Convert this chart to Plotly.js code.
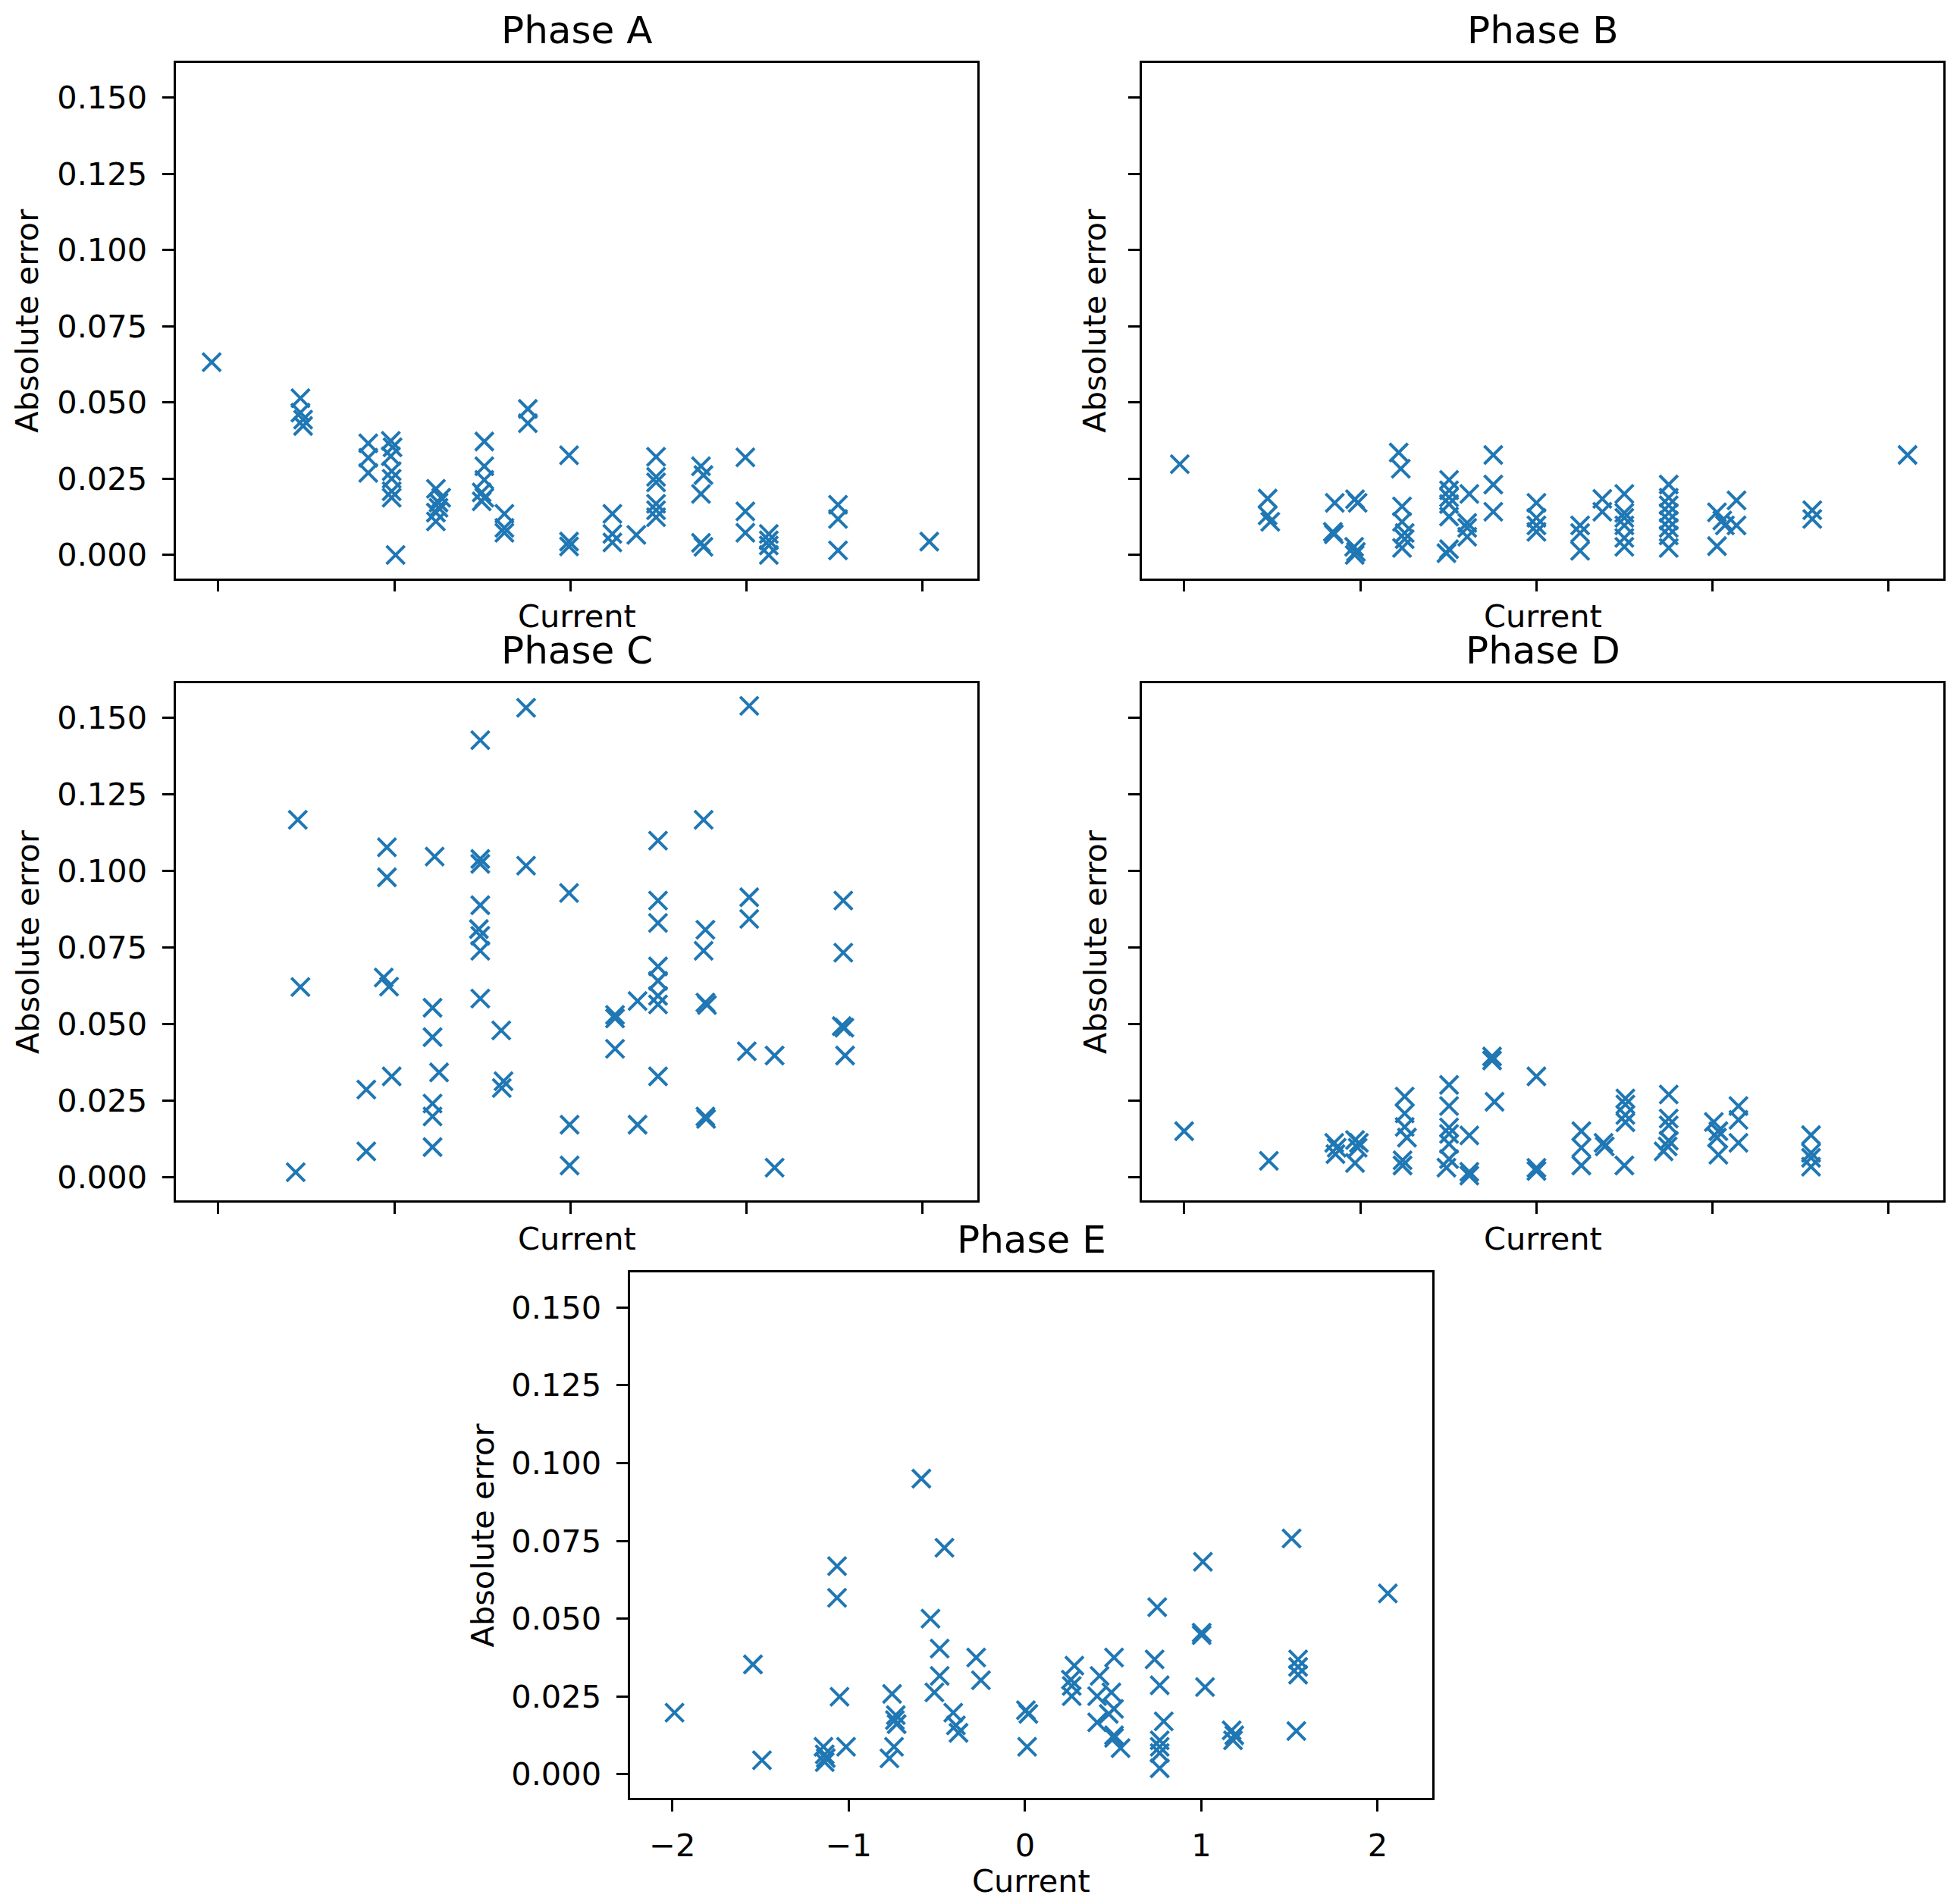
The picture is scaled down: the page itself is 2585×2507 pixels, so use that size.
<!DOCTYPE html>
<html>
<head>
<meta charset="utf-8">
<script src="https://cdn.plot.ly/plotly-3.0.1.min.js"></script>
<style>
  html, body { margin: 0; padding: 0; background: #ffffff; }
  #chart { width: 2585px; height: 2507px; }
</style>
</head>
<body>
<div id="chart"></div>
<script>
// ---------------------------------------------------------------------------
// Absolute error vs current, one scatter per phase
// ---------------------------------------------------------------------------

const phaseNames = ['Phase A', 'Phase B', 'Phase C', 'Phase D', 'Phase E'];

const phaseA_current = [
    -2.037,
    -1.533, -1.533, -1.518, -1.518,
    -1.148, -1.148, -1.148,
    -1.02, -1.01, -1.02, -1.015, -1.015, -1.015, -1.015,
    -0.993,
    -0.764, -0.734, -0.749, -0.749, -0.764, -0.764,
    -0.489, -0.489, -0.489, -0.504, -0.489, -0.504,
    -0.375, -0.375, -0.375,
    -0.242, -0.242,
    -0.008, -0.008, -0.008,
    0.238, 0.238, 0.238,
    0.374,
    0.486, 0.486, 0.486, 0.486, 0.486, 0.486,
    0.741, 0.755, 0.741, 0.741, 0.755,
    0.993, 0.993, 0.993,
    1.126, 1.126, 1.126, 1.126,
    1.519, 1.519, 1.519,
    2.037
];
const phaseA_error = [
    0.0632,
    0.0514, 0.0467, 0.0444, 0.0423,
    0.0366, 0.0319, 0.0269,
    0.0374, 0.0353, 0.0324, 0.0275, 0.0250, 0.0209, 0.0188,
    0.0,
    0.0217, 0.0188, 0.0172, 0.0155, 0.0139, 0.0110,
    0.0372, 0.0291, 0.0246, 0.0205, 0.0188, 0.0176,
    0.0135, 0.0089, 0.0073,
    0.0479, 0.0432,
    0.0327, 0.0044, 0.0028,
    0.0135, 0.0069, 0.0041,
    0.0066,
    0.0322, 0.0256, 0.0238, 0.0168, 0.0147, 0.0124,
    0.0291, 0.0262, 0.0200, 0.0040, 0.0027,
    0.0320, 0.0143, 0.0073,
    0.0069, 0.0048, 0.0031, 0.0,
    0.0165, 0.0118, 0.0015,
    0.0044
];

const phaseB_current = [
    -2.025,
    -1.526, -1.526, -1.511,
    -1.145, -1.156, -1.150,
    -1.030, -1.015, -1.035, -1.025, -1.032,
    -0.782, -0.770,
    -0.763, -0.763, -0.748, -0.748, -0.763,
    -0.496, -0.496, -0.496, -0.496, -0.496, -0.496, -0.511,
    -0.381, -0.393, -0.393, -0.393,
    -0.245, -0.245, -0.245,
    0.0, 0.0, 0.0, 0.0,
    0.248, 0.248, 0.248,
    0.374, 0.374,
    0.499, 0.499, 0.499, 0.499, 0.499, 0.499,
    0.751, 0.751, 0.751, 0.751, 0.751, 0.751, 0.751, 0.751,
    1.025, 1.055, 1.025, 1.136, 1.136, 1.07,
    1.566, 1.566,
    2.107
];
const phaseB_error = [
    0.0298,
    0.0185, 0.0130, 0.0109,
    0.0171, 0.0076, 0.0068,
    0.0183, 0.0171, 0.0027, 0.0010, 0.0,
    0.0336, 0.0283,
    0.0159, 0.0109, 0.0072, 0.0052, 0.0023,
    0.0246, 0.0212, 0.0189, 0.0167, 0.0126, 0.0019, 0.0006,
    0.0200, 0.0105, 0.0089, 0.0060,
    0.0328, 0.0231, 0.0142,
    0.0171, 0.0122, 0.0097, 0.0076,
    0.0097, 0.0072, 0.0014,
    0.0184, 0.0142,
    0.0200, 0.0138, 0.0122, 0.0097, 0.0056, 0.0027,
    0.0231, 0.0188, 0.0163, 0.0138, 0.0113, 0.0089, 0.0064, 0.0023,
    0.0140, 0.0113, 0.0029, 0.0179, 0.0097, 0.0097,
    0.0147, 0.0118,
    0.0328
];

const phaseC_current = [
    -0.252, -0.512, -1.548, -1.042, -0.771, -0.512, -0.512, -0.252, -1.042, -0.008,
    -0.512, -0.520, -0.512, -0.512, -1.533, -1.060, -1.030, -0.512, -0.783, -0.783,
    -0.393, -0.746, -1.015, -1.159, -0.380, -0.390, -0.783, -0.783, -0.005, -0.783,
    -1.159, -0.005, -1.560,
    1.015, 0.756, 0.497, 0.497, 0.497, 1.015, 1.015, 1.549, 0.766, 0.756,
    1.549, 0.497, 0.497, 0.497, 0.497, 0.381, 0.766, 0.775, 0.253, 0.253,
    0.253, 1.540, 1.555, 1.001, 1.159, 1.559, 0.497, 0.381, 0.766, 0.770,
    1.159
];
const phaseC_error = [
    0.1533, 0.1427, 0.1167, 0.1077, 0.1047, 0.1039, 0.1023, 0.1017, 0.0979, 0.0928,
    0.0888, 0.0810, 0.0788, 0.0739, 0.0621, 0.0652, 0.0622, 0.0583, 0.0553, 0.0457,
    0.0479, 0.0342, 0.0329, 0.0286, 0.0313, 0.0291, 0.0240, 0.0198, 0.0171, 0.0098,
    0.0084, 0.0038, 0.0016,
    0.1539, 0.1167, 0.1099, 0.0903, 0.0830, 0.0914, 0.0843, 0.0903, 0.0808, 0.0739,
    0.0733, 0.0688, 0.0641, 0.0592, 0.0564, 0.0575, 0.0570, 0.0562, 0.0530, 0.0518,
    0.0419, 0.0493, 0.0488, 0.0411, 0.0397, 0.0397, 0.0329, 0.0171, 0.0198, 0.0190,
    0.0031
];

const phaseD_current = [
    -2.0, -1.519,
    -1.148, -1.134, -1.141, -1.030, -1.008, -1.015, -1.030,
    -0.748, -0.748, -0.748, -0.735, -0.760, -0.760,
    -0.496, -0.496, -0.496, -0.496, -0.496, -0.496, -0.511,
    -0.381, -0.381, -0.381,
    -0.252, -0.252, -0.238,
    0.0, 0.0, 0.0,
    0.255, 0.255, 0.255,
    0.381, 0.388,
    0.499, 0.505, 0.505, 0.505, 0.505,
    0.751, 0.751, 0.751, 0.751, 0.745, 0.722,
    1.007, 1.033, 1.025, 1.033,
    1.147, 1.147, 1.147,
    1.559, 1.559, 1.559, 1.559
];
const phaseD_error = [
    0.0150, 0.0053,
    0.0112, 0.0096, 0.0075, 0.0121, 0.0112, 0.0096, 0.0046,
    0.0263, 0.0208, 0.0164, 0.0129, 0.0055, 0.0038,
    0.0301, 0.0232, 0.0162, 0.0141, 0.0108, 0.0059, 0.0031,
    0.0136, 0.0017, 0.0005,
    0.0394, 0.0381, 0.0246,
    0.0329, 0.0030, 0.0020,
    0.0150, 0.0096, 0.0038,
    0.0112, 0.0100,
    0.0038, 0.0257, 0.0237, 0.0203, 0.0179,
    0.0270, 0.0191, 0.0169, 0.0119, 0.0100, 0.0084,
    0.0180, 0.0150, 0.0129, 0.0073,
    0.0232, 0.0187, 0.0112,
    0.0137, 0.0079, 0.0063, 0.0034
];

const phaseE_current = [
    -1.988, -1.543, -1.492,
    -1.066, -1.066, -1.052,
    -1.143, -1.136, -1.130, -1.136, -1.015,
    -0.754, -0.733, -0.738, -0.728, -0.743, -0.769,
    -0.588, -0.457, -0.536, -0.484, -0.484, -0.514,
    -0.277, -0.250,
    -0.407, -0.392, -0.377,
    0.005, 0.019, 0.012,
    1.512, 1.009, 2.058, 0.750, 1.002, 1.002,
    0.505, 0.735, 0.764, 1.021,
    1.549, 1.549, 1.549, 1.539,
    1.172, 1.187, 1.180,
    0.787, 0.764, 0.764, 0.764, 0.764,
    0.280, 0.260, 0.265, 0.265,
    0.423, 0.409, 0.490, 0.505, 0.475, 0.409,
    0.505, 0.505, 0.542
];
const phaseE_error = [
    0.0198, 0.0353, 0.0045,
    0.0669, 0.0567, 0.0249,
    0.0088, 0.0064, 0.0052, 0.0039, 0.0088,
    0.0258, 0.0190, 0.0174, 0.0161, 0.0088, 0.0051,
    0.0950, 0.0728, 0.0500, 0.0404, 0.0316, 0.0263,
    0.0375, 0.0302,
    0.0198, 0.0157, 0.0133,
    0.0206, 0.0194, 0.0088,
    0.0758, 0.0683, 0.0581, 0.0537, 0.0455, 0.0447,
    0.0375, 0.0369, 0.0286, 0.0280,
    0.0369, 0.0345, 0.0320, 0.0139,
    0.0141, 0.0125, 0.0109,
    0.0170, 0.0109, 0.0088, 0.0068, 0.0019,
    0.0349, 0.0304, 0.0284, 0.0251,
    0.0316, 0.0251, 0.0263, 0.0210, 0.0194, 0.0167,
    0.0125, 0.0117, 0.0084
];

const xTickVals = [-2, -1, 0, 1, 2];
const yTickVals = [0, 0.025, 0.05, 0.075, 0.1, 0.125, 0.15];
const xLabel = 'Current';
const yLabel = 'Absolute error';

const currents = [phaseA_current, phaseB_current, phaseC_current, phaseD_current, phaseE_current];
const errors = [phaseA_error, phaseB_error, phaseC_error, phaseD_error, phaseE_error];

// ---------------------------------------------------------------------------
// Layout (pixel boxes of each axes, converted to paper fractions)
// ---------------------------------------------------------------------------

const W = 2585, H = 2507;
const BLUE = '#1f77b4';
const FONT = 'DejaVu Sans';

const panels = [
    { left: 232,  right: 1289, top: 83,   bottom: 762.5, xLabels: false, yLabels: true,  yLabelOffset: 196 },
    { left: 1506, right: 2563, top: 83,   bottom: 762.5, xLabels: false, yLabels: false, yLabelOffset: 62 },
    { left: 232,  right: 1289, top: 901,  bottom: 1583,  xLabels: false, yLabels: true,  yLabelOffset: 196 },
    { left: 1506, right: 2563, top: 901,  bottom: 1583,  xLabels: false, yLabels: false, yLabelOffset: 62 },
    { left: 831,  right: 1889, top: 1678, bottom: 2371,  xLabels: true,  yLabels: true,  yLabelOffset: 195 }
];

const px = x => x / W;
const py = y => 1 - y / H;

const axisStyle = {
    showline: true,
    linecolor: '#000000',
    linewidth: 3.3,
    mirror: true,
    ticks: 'outside',
    ticklen: 14.5,
    tickwidth: 3.3,
    tickcolor: '#000000',
    showgrid: false,
    zeroline: false,
    fixedrange: true,
    tickfont: { family: FONT, size: 41.5, color: '#000000' }
};

const layout = {
    width: W,
    height: H,
    margin: { t: 0, r: 0, b: 0, l: 0 },
    paper_bgcolor: '#ffffff',
    plot_bgcolor: '#ffffff',
    showlegend: false,
    font: { family: FONT, color: '#000000' },
    annotations: []
};

const traces = [];

panels.forEach((p, i) => {
    const n = i === 0 ? '' : String(i + 1);

    layout['xaxis' + n] = {
        ...axisStyle,
        domain: [px(p.left), px(p.right)],
        anchor: 'y' + n,
        range: [-2.24, 2.31],
        tickvals: xTickVals,
        showticklabels: p.xLabels,
        ticklabelstandoff: 10
    };
    layout['yaxis' + n] = {
        ...axisStyle,
        domain: [py(p.bottom), py(p.top)],
        anchor: 'x' + n,
        range: [-0.0076, 0.1613],
        tickvals: yTickVals,
        tickformat: '.3f',
        showticklabels: p.yLabels,
        ticklabelstandoff: 12
    };

    traces.push({
        x: currents[i],
        y: errors[i],
        xaxis: 'x' + n,
        yaxis: 'y' + n,
        type: 'scatter',
        mode: 'markers',
        marker: {
            symbol: 'x-thin-open',
            size: 24,
            color: BLUE,
            line: { color: BLUE, width: 4 }
        },
        hoverinfo: 'x+y'
    });

    const cx = (p.left + p.right) / 2;
    const cy = (p.top + p.bottom) / 2;

    // subplot title
    layout.annotations.push({
        text: phaseNames[i],
        xref: 'paper', yref: 'paper',
        x: px(cx), y: py(p.top - 43),
        xanchor: 'center', yanchor: 'middle',
        showarrow: false,
        font: { family: FONT, size: 50, color: '#000000' }
    });

    // x label
    layout.annotations.push({
        text: xLabel,
        xref: 'paper', yref: 'paper',
        x: px(cx), y: py(p.bottom + (p.xLabels ? 109 : 50)),
        xanchor: 'center', yanchor: 'middle',
        showarrow: false,
        font: { family: FONT, size: 41.5, color: '#000000' }
    });

    // y label
    layout.annotations.push({
        text: yLabel,
        xref: 'paper', yref: 'paper',
        x: px(p.left - p.yLabelOffset), y: py(cy),
        xanchor: 'center', yanchor: 'middle',
        textangle: -90,
        showarrow: false,
        font: { family: FONT, size: 41.5, color: '#000000' }
    });
});

Plotly.newPlot('chart', traces, layout, { displayModeBar: false, responsive: false });
</script>
</body>
</html>
